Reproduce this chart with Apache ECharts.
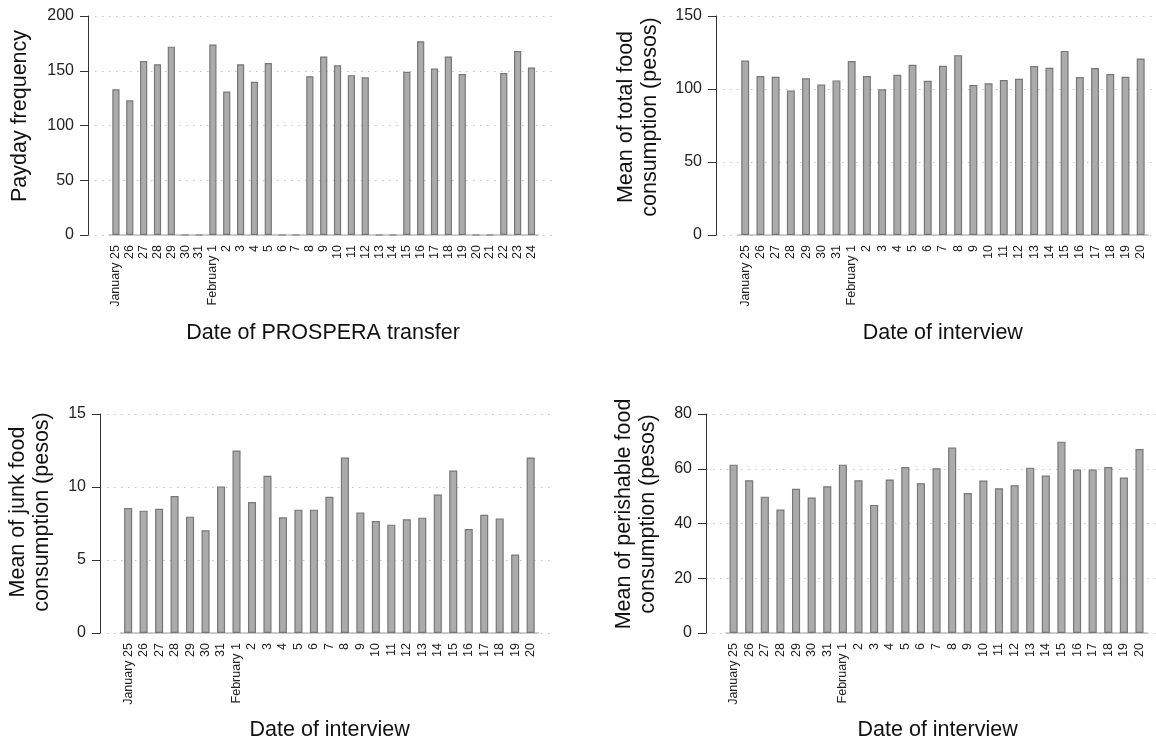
<!DOCTYPE html>
<html>
<head>
<meta charset="utf-8">
<script src="https://cdn.jsdelivr.net/npm/echarts@6/dist/echarts.min.js"></script>
<style>
html,body{margin:0;padding:0;background:#fff;}
#chart{width:1156px;height:742px;}
</style>
</head>
<body>
<div id="chart"></div>
<script>
// ---- data ----
var transferDates = ['January 25','26','27','28','29','30','31','February 1','2','3','4','5','6','7','8','9','10','11','12','13','14','15','16','17','18','19','20','21','22','23','24'];
var interviewDates = ['January 25','26','27','28','29','30','31','February 1','2','3','4','5','6','7','8','9','10','11','12','13','14','15','16','17','18','19','20'];
var paydayFrequency = [133,123,159,156,172,0,0,174,131,156,140,157,0,0,145,163,155,146,144,0,0,149,177,152,163,147,0,0,148,168,153];
var totalFood = [119.5,108.9,108.4,98.9,107.3,103,105.9,119.1,108.9,99.8,109.8,116.6,105.7,115.9,123.2,102.7,103.9,106.1,107,115.7,114.5,126.1,108.2,114.3,110.2,108.4,120.9];
var junkFood = [8.56,8.38,8.51,9.38,7.97,7.03,10.04,12.5,8.97,10.77,7.92,8.45,8.45,9.33,12.02,8.26,7.67,7.42,7.79,7.9,9.49,11.13,7.12,8.1,7.85,5.37,12.02];
var perishableFood = [61.5,55.8,49.8,45.1,52.7,49.5,53.6,61.5,55.8,46.8,56.1,60.6,54.7,60.2,67.8,51.1,55.7,52.9,54,60.4,57.5,69.9,59.7,59.7,60.6,56.8,67.2];
var ticks1 = [0,50,100,150,200];
var ticks2 = [0,50,100,150];
var ticks3 = [0,5,10,15];
var ticks4 = [0,20,40,60,80];
var xTitles = ['Date of PROSPERA transfer','Date of interview','Date of interview','Date of interview'];
var yTitles = ['Payday frequency','Mean of total food\nconsumption (pesos)','Mean of junk food\nconsumption (pesos)','Mean of perishable food\nconsumption (pesos)'];

// ---- layout ----
var FONT = 'Liberation Sans, Arial, sans-serif';
var panels = [
  {cats: transferDates, vals: paydayFrequency, ticks: ticks1, top: 16, axisX: 88, gridEnd: 555, barLeft: 109, barWidth: 429.4, xt: [323, 333], yt: [19.6, 116]},
  {cats: interviewDates, vals: totalFood, ticks: ticks2, top: 16, axisX: 716, gridEnd: 1156, barLeft: 737.6, barWidth: 410.7, xt: [942.8, 333], yt: [638, 117]},
  {cats: interviewDates, vals: junkFood, ticks: ticks3, top: 414, axisX: 100, gridEnd: 555, barLeft: 120.4, barWidth: 418, xt: [329.6, 730], yt: [30.5, 512]},
  {cats: interviewDates, vals: perishableFood, ticks: ticks4, top: 414, axisX: 706, gridEnd: 1156, barLeft: 725.8, barWidth: 421.5, xt: [937.6, 730], yt: [636.5, 514]}
];
var H = 219;

var grid = [], xAxis = [], yAxis = [], series = [], graphic = [];
panels.forEach(function (p, i) {
  var tmax = p.ticks[p.ticks.length - 1];
  var step = p.ticks[1] - p.ticks[0];
  // axis grid (y axis, ticks, dotted gridlines)
  grid.push({left: p.axisX, top: p.top, width: p.gridEnd - p.axisX, height: H});
  xAxis.push({gridIndex: 2 * i, type: 'value', show: false, min: 0, max: 1});
  yAxis.push({gridIndex: 2 * i, type: 'value', min: 0, max: tmax, interval: step,
    axisLine: {show: true, lineStyle: {color: '#333', width: 1}},
    axisTick: {show: true, length: 8, lineStyle: {color: '#333', width: 1}},
    axisLabel: {fontSize: 16, color: '#222', margin: 14, fontFamily: FONT},
    splitLine: {show: true, lineStyle: {color: '#c4c4c4', width: 1.2, type: [1.5, 5.5]}}
  });
  // bar grid
  grid.push({left: p.barLeft, top: p.top, width: p.barWidth, height: H});
  xAxis.push({gridIndex: 2 * i + 1, type: 'category', data: p.cats, boundaryGap: true,
    axisLine: {show: true, lineStyle: {color: '#bdbdbd', width: 1.5}},
    axisTick: {show: false},
    axisLabel: {interval: 0, rotate: 90, fontSize: 12.5, color: '#222', margin: 10, fontFamily: FONT}
  });
  yAxis.push({gridIndex: 2 * i + 1, type: 'value', min: 0, max: tmax, show: false, splitLine: {show: false}});
  series.push({type: 'bar', xAxisIndex: 2 * i + 1, yAxisIndex: 2 * i + 1, data: p.vals, barWidth: '52%',
    itemStyle: {color: '#ababab', borderColor: '#777', borderWidth: 1.2}, silent: true, animation: false});
  graphic.push({type: 'text', x: p.xt[0], y: p.xt[1], style: {text: xTitles[i], font: '21.5px ' + FONT, fill: '#111', textAlign: 'center', textVerticalAlign: 'middle'}});
  graphic.push({type: 'text', x: p.yt[0], y: p.yt[1], rotation: Math.PI / 2, style: {text: yTitles[i], font: '21.5px ' + FONT, fill: '#111', textAlign: 'center', textVerticalAlign: 'middle', lineHeight: 24}});
});

var chart = echarts.init(document.getElementById('chart'), null, {renderer: 'canvas'});
chart.setOption({
  backgroundColor: '#fff',
  animation: false,
  grid: grid, xAxis: xAxis, yAxis: yAxis, series: series, graphic: graphic
});
</script>
</body>
</html>
